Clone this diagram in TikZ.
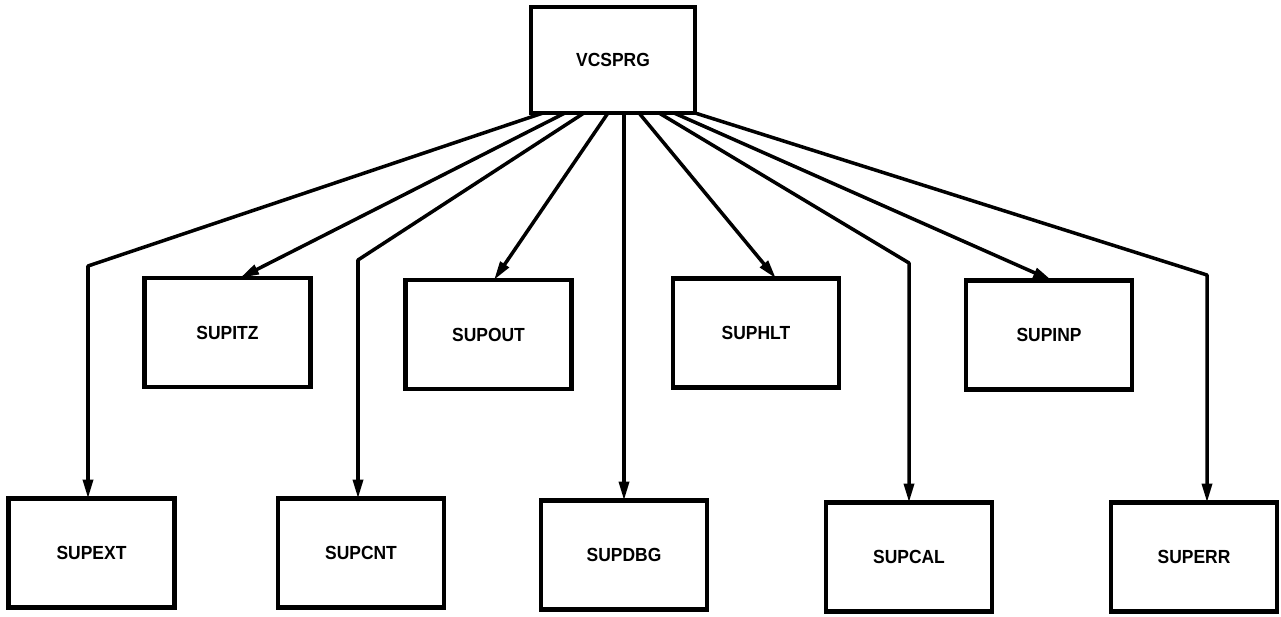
\documentclass[tikz,border=0pt]{standalone}
\usepackage{fontspec}
\usetikzlibrary{arrows.meta}
\newfontfamily\labelfont[FakeStretch=0.92]{Liberation Sans}
\begin{document}
\begin{tikzpicture}[x=0.02cm,y=-0.02cm,
  box/.style={draw, line width=2.6pt, minimum width=3.32cm, minimum height=2.18cm,
    inner sep=0pt, outer sep=0pt, font=\labelfont\bfseries\fontsize{10.8}{12}\selectfont},
  link/.style={line width=2pt, line join=round, -{Triangle[length=3.8mm,width=2mm]}}]
\useasboundingbox (0,0) rectangle (1281,617);

% program modules
\node[box, minimum width=3.28cm, minimum height=2.12cm] (vc) at (613,60) {VCSPRG};
\node[box] (itz) at (227.5,332.5) {SUPITZ};
\node[box] (out) at (488.5,334.5) {SUPOUT};
\node[box] (hlt) at (756,333) {SUPHLT};
\node[box] (inp) at (1049,335) {SUPINP};
\node[box] (ext) at (91.5,553) {SUPEXT};
\node[box] (cnt) at (361,553) {SUPCNT};
\node[box] (dbg) at (624,555) {SUPDBG};
\node[box] (cal) at (909,557) {SUPCAL};
\node[box] (err) at (1194,557) {SUPERR};

% departure points along the bottom of the main program
\coordinate (s1) at ([xshift=-1.40cm]vc.south);
\coordinate (s2) at ([xshift=-0.96cm]vc.south);
\coordinate (s3) at ([xshift=-0.58cm]vc.south);
\coordinate (s4) at ([xshift=-0.10cm]vc.south);
\coordinate (s5) at ([xshift=0.22cm]vc.south);
\coordinate (s6) at ([xshift=0.52cm]vc.south);
\coordinate (s7) at ([xshift=0.92cm]vc.south);
\coordinate (s8) at ([xshift=1.22cm]vc.south);
\coordinate (s9) at (vc.south east);

% bends of the calls to the lower row
\coordinate (k1) at (88,266);
\coordinate (k2) at (358,260);
\coordinate (k3) at (909,263);
\coordinate (k4) at (1207,275);

% calls
\draw[link] (s1) -- (k1) -- (k1 |- ext.north);
\draw[link] (s2) -- ([xshift=0.25cm]itz.north);
\draw[link] (s3) -- (k2) -- (k2 |- cnt.north);
\draw[link] (s4) -- ([xshift=0.11cm]out.north);
\draw[link] (s5) -- (s5 |- dbg.north);
\draw[link] (s6) -- ([xshift=0.40cm]hlt.north);
\draw[link] (s7) -- (k3) -- (k3 |- cal.north);
\draw[link] (s8) -- ([xshift=0.06cm]inp.north);
\draw[link] (s9) -- (k4) -- (k4 |- err.north);
\end{tikzpicture}
\end{document}
